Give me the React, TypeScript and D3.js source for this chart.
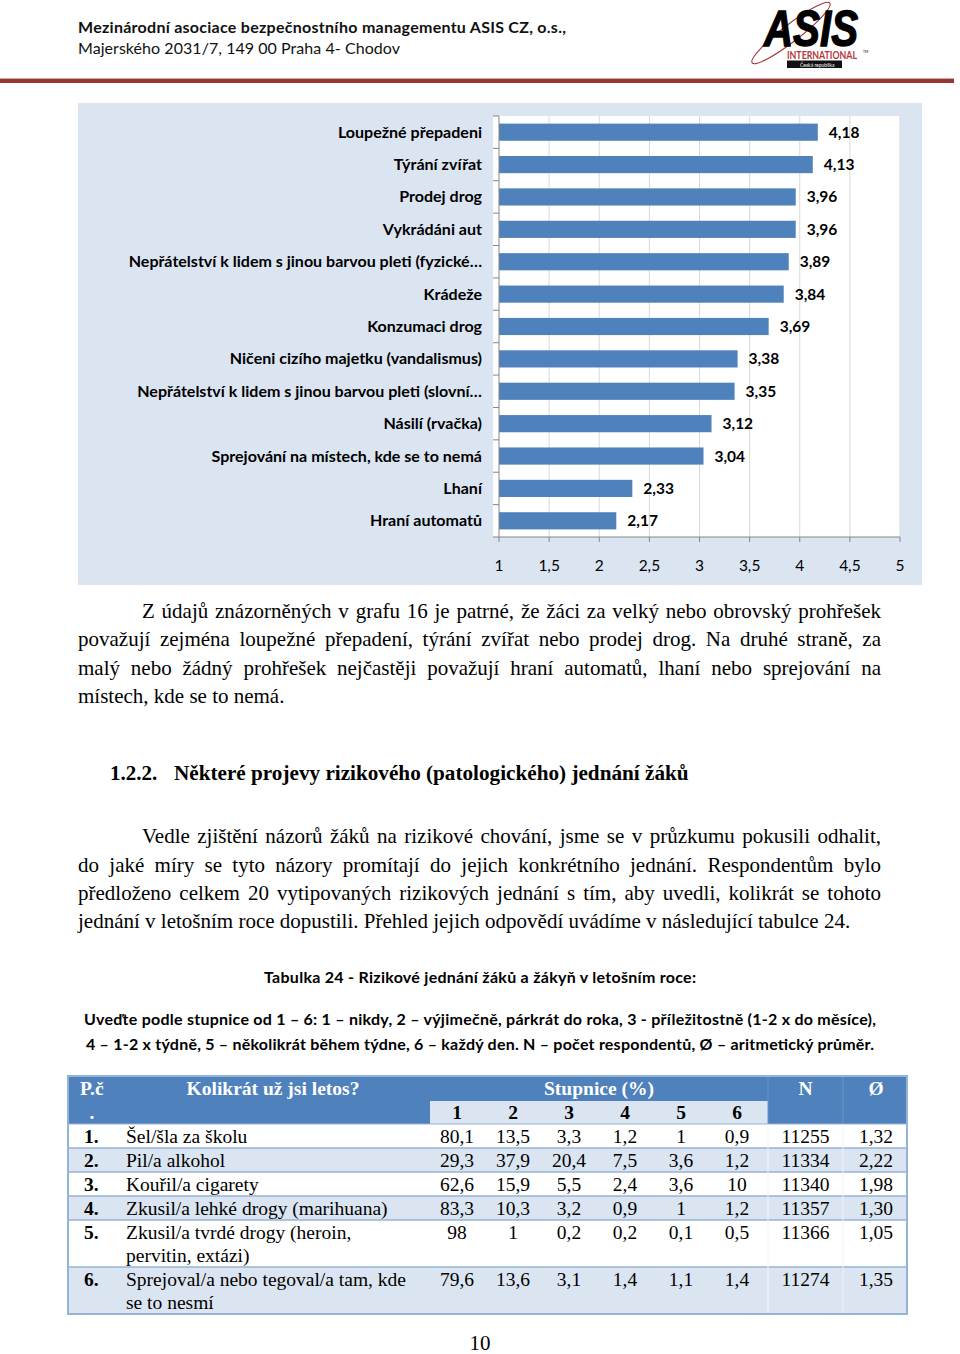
import React, { useRef, useLayoutEffect } from "react";
import * as d3 from "d3";

// ---------- chart data ----------
const categories = [
  "Loupežné přepadeni",
  "Týrání zvířat",
  "Prodej drog",
  "Vykrádáni aut",
  "Nepřátelství k lidem s jinou barvou pleti (fyzické…",
  "Krádeže",
  "Konzumaci drog",
  "Ničeni cizího majetku (vandalismus)",
  "Nepřátelství k lidem s jinou barvou pleti (slovní…",
  "Násilí (rvačka)",
  "Sprejování na místech, kde se to nemá",
  "Lhaní",
  "Hraní automatů",
];
const values = [4.18, 4.13, 3.96, 3.96, 3.89, 3.84, 3.69, 3.38, 3.35, 3.12, 3.04, 2.33, 2.17];
const xTicks = [1, 1.5, 2, 2.5, 3, 3.5, 4, 4.5, 5];

// ---------- table data ----------
const rowNumbers = ["1.", "2.", "3.", "4.", "5.", "6."];
const rowLabels = [
  ["Šel/šla za školu"],
  ["Pil/a alkohol"],
  ["Kouřil/a cigarety"],
  ["Zkusil/a lehké drogy (marihuana)"],
  ["Zkusil/a tvrdé drogy (heroin,", "pervitin, extázi)"],
  ["Sprejoval/a nebo tegoval/a tam, kde", "se to nesmí"],
];
const scaleLevels = [1, 2, 3, 4, 5, 6];
const pct1 = [80.1, 29.3, 62.6, 83.3, 98, 79.6];
const pct2 = [13.5, 37.9, 15.9, 10.3, 1, 13.6];
const pct3 = [3.3, 20.4, 5.5, 3.2, 0.2, 3.1];
const pct4 = [1.2, 7.5, 2.4, 0.9, 0.2, 1.4];
const pct5 = [1, 3.6, 3.6, 1, 0.1, 1.1];
const pct6 = [0.9, 1.2, 10, 1.2, 0.5, 1.4];
const nResp = [11255, 11334, 11340, 11357, 11366, 11274];
const means = [1.32, 2.22, 1.98, 1.3, 1.05, 1.35];

// ---------- texts ----------
const para1 = [
  "Z údajů znázorněných v grafu 16 je patrné, že žáci za velký nebo obrovský prohřešek",
  "považují zejména loupežné přepadení, týrání zvířat nebo prodej drog. Na druhé straně, za",
  "malý nebo žádný prohřešek nejčastěji považují hraní automatů, lhaní nebo sprejování na",
  "místech, kde se to nemá.",
];
const para2 = [
  "Vedle zjištění názorů žáků na rizikové chování, jsme se v průzkumu pokusili odhalit,",
  "do jaké míry se tyto názory promítají do jejich konkrétního jednání. Respondentům bylo",
  "předloženo celkem 20 vytipovaných rizikových jednání s tím, aby uvedli, kolikrát se tohoto",
  "jednání v letošním roce dopustili. Přehled jejich odpovědí uvádíme v následující tabulce 24.",
];

const SANS = "Lato, 'Open Sans', sans-serif";
const SERIF = "'Liberation Serif', 'Times New Roman', serif";
const DARK = "#4f81bd";
const LIGHT = "#dbe5f1";
const SEP = "#95b3d7";

const comma = (v: number) => String(v).replace(".", ",");
const comma2 = (v: number) => d3.format(".2f")(v).replace(".", ",");

function JLine(props: { x: number; y: number; w: number; text: string; justify: boolean; style?: any }) {
  const ref = useRef<SVGTextElement>(null);
  const { x, y, w, text, justify, style } = props;
  useLayoutEffect(() => {
    const el = ref.current;
    if (!el) return;
    el.style.wordSpacing = "0px";
    if (!justify) return;
    const nat = el.getComputedTextLength();
    const n = (text.match(/ /g) || []).length;
    if (n > 0) el.style.wordSpacing = `${(w - nat) / n}px`;
  }, [text, w, justify]);
  return (
    <text ref={ref} x={x} y={y} style={style}>
      {text}
    </text>
  );
}

function Chart() {
  const plot = { left: 499, right: 900, top: 116, bottom: 537 };
  const x = d3.scaleLinear().domain([1, 5]).range([plot.left, plot.right]);
  const y = d3
    .scaleBand<string>()
    .domain(categories)
    .range([plot.top, plot.bottom])
    .paddingInner(0.47)
    .paddingOuter(0.235);
  const step = y.step();
  const boundaries = d3.range(categories.length + 1).map((i) => plot.top + i * step);
  return (
    <g>
      <rect x={78} y={103} width={844} height={482} fill="#dbe5f1" />
      <rect x={493} y={plot.top} width={plot.right - 493} height={plot.bottom - plot.top} fill="#fff" />
      {xTicks.slice(1).map((t) => (
        <line key={"g" + t} x1={x(t)} x2={x(t)} y1={plot.top} y2={plot.bottom} stroke="#d9d9d9" strokeWidth={1} />
      ))}
      {categories.map((c, i) => (
        <rect key={c} x={x(1)} y={y(c)!} width={x(values[i]) - x(1)} height={y.bandwidth()} fill={DARK} />
      ))}
      <line x1={plot.left} x2={plot.left} y1={plot.top} y2={plot.bottom} stroke="#868686" />
      {boundaries.map((b, i) => (
        <line key={"yt" + i} x1={plot.left - 6} x2={plot.left} y1={b} y2={b} stroke="#868686" />
      ))}
      <line x1={plot.left} x2={plot.right} y1={plot.bottom} y2={plot.bottom} stroke="#868686" />
      {xTicks.map((t) => (
        <g key={"xt" + t}>
          <line x1={x(t)} x2={x(t)} y1={plot.bottom} y2={plot.bottom + 5} stroke="#868686" />
          <text x={x(t)} y={571} textAnchor="middle" fontFamily={SANS} fontSize={15.5} fill="#000">
            {comma(t)}
          </text>
        </g>
      ))}
      {categories.map((c, i) => (
        <g key={"l" + c}>
          <text
            x={482}
            y={y(c)! + y.bandwidth() / 2 + 5.5}
            textAnchor="end"
            fontFamily={SANS}
            fontWeight="bold"
            fontSize={16.05}
            fill="#000"
          >
            {c}
          </text>
          <text
            x={x(values[i]) + 11}
            y={y(c)! + y.bandwidth() / 2 + 5.5}
            fontFamily={SANS}
            fontWeight="bold"
            fontSize={15.5}
            fill="#000"
          >
            {comma2(values[i])}
          </text>
        </g>
      ))}
    </g>
  );
}

function Table() {
  const top = 1076;
  const sub = 1100;
  const bodyTop = 1124;
  const left = 68;
  const right = 907;
  const cPc = 120;
  const cLabel = 430;
  const cN = 768;
  const cAvg = 843;
  const lev = d3.scaleBand<number>().domain(scaleLevels).range([429, 765]);
  const rowH = (r: number) => 24 + (rowLabels[r].length - 1) * 23;
  const tops: number[] = [];
  let acc = bodyTop;
  rowLabels.forEach((_, r) => {
    tops.push(acc);
    acc += rowH(r);
  });
  const bottom = acc;
  const cols = [pct1, pct2, pct3, pct4, pct5, pct6];
  const font = { fontFamily: SERIF, fontSize: 19.5 };
  return (
    <g>
      <rect x={left} y={top} width={right - left} height={sub + 24 - top} fill={DARK} />
      <rect x={cLabel} y={sub + 1} width={cN - cLabel} height={23} fill={LIGHT} />
      <line x1={cN} x2={cN} y1={top} y2={bodyTop} stroke="#6d97cb" strokeWidth={1} />
      <line x1={cAvg} x2={cAvg} y1={top} y2={bodyTop} stroke="#6d97cb" strokeWidth={1} />
      {rowLabels.map((_, r) => (
        <rect key={"bg" + r} x={left} y={tops[r]} width={right - left} height={rowH(r)} fill={r % 2 === 0 ? "#fff" : LIGHT} />
      ))}
      {tops.slice(1).map((t, i) => (
        <line key={"sep" + i} x1={left} x2={right} y1={t} y2={t} stroke={SEP} strokeWidth={1.5} />
      ))}
      <line x1={left} x2={right} y1={bodyTop} y2={bodyTop} stroke={SEP} strokeWidth={1} />
      <line x1={cN} x2={cN} y1={bodyTop} y2={bottom} stroke="#eef3f9" strokeWidth={1} />
      <line x1={cAvg} x2={cAvg} y1={bodyTop} y2={bottom} stroke="#eef3f9" strokeWidth={1} />
      <rect x={left} y={top} width={right - left} height={bottom - top} fill="none" stroke={SEP} strokeWidth={2} />
      {/* header */}
      <g {...font} fontWeight="bold" fill="#fff">
        <text x={80} y={top + 18.5}>P.č</text>
        <text x={92} y={sub + 18.5} textAnchor="middle">.</text>
        <text x={(cPc + cLabel) / 2 - 2} y={top + 18.5} textAnchor="middle">Kolikrát už jsi letos?</text>
        <text x={(cLabel + cN) / 2} y={top + 18.5} textAnchor="middle">Stupnice (%)</text>
        <text x={(cN + cAvg) / 2} y={top + 18.5} textAnchor="middle">N</text>
        <text x={(cAvg + right) / 2 + 1} y={top + 18.5} textAnchor="middle">Ø</text>
      </g>
      <g {...font} fontWeight="bold" fill="#000">
        {scaleLevels.map((l) => (
          <text key={"lv" + l} x={lev(l)! + lev.bandwidth() / 2} y={sub + 18.5} textAnchor="middle">
            {l}
          </text>
        ))}
      </g>
      {/* body */}
      <g {...font} fill="#000">
        {rowLabels.map((lines, r) => (
          <g key={"row" + r}>
            <text x={84} y={tops[r] + 18.5} fontWeight="bold">{rowNumbers[r]}</text>
            {lines.map((ln, k) => (
              <text key={k} x={126} y={tops[r] + 18.5 + k * 23}>{ln}</text>
            ))}
            {cols.map((col, ci) => (
              <text key={"c" + ci} x={lev(scaleLevels[ci])! + lev.bandwidth() / 2} y={tops[r] + 18.5} textAnchor="middle">
                {comma(col[r])}
              </text>
            ))}
            <text x={(cN + cAvg) / 2} y={tops[r] + 18.5} textAnchor="middle">{nResp[r]}</text>
            <text x={(cAvg + right) / 2 + 1} y={tops[r] + 18.5} textAnchor="middle">{comma2(means[r])}</text>
          </g>
        ))}
      </g>
    </g>
  );
}

function Header() {
  return (
    <g>
      <text x={78} y={33} fontFamily={SANS} fontWeight="bold" fontSize={16} fill="#111" textLength={488} lengthAdjust="spacing">
        Mezinárodní asociace bezpečnostního managementu ASIS CZ, o.s.,
      </text>
      <text x={78} y={54} fontFamily={SANS} fontSize={16} fill="#111" textLength={322} lengthAdjust="spacing">
        Majerského 2031/7, 149 00 Praha 4- Chodov
      </text>
      <rect x={0} y={79} width={954} height={4} fill="#943634" />
      <rect x={0} y={78} width={954} height={1} fill="#d9a3a3" />
      {/* logo */}
      <ellipse cx={791} cy={33} rx={49} ry={8.5} transform="rotate(-37.6 791 33)" fill="none" stroke="#a8323a" strokeWidth={1.1} />
      <text
        x={764}
        y={46}
        fontFamily="'Liberation Sans', Arial, sans-serif"
        fontWeight="bold"
        fontStyle="italic"
        fontSize={50}
        fill="#000"
        stroke="#000"
        strokeWidth={1.4}
        textLength={94}
        lengthAdjust="spacingAndGlyphs"
      >
        ASIS
      </text>
      <text x={787} y={59} fontFamily={SANS} fontWeight="bold" fontSize={11} fill="#b5373b" textLength={70} lengthAdjust="spacingAndGlyphs">
        INTERNATIONAL
      </text>
      <text x={863} y={53} fontFamily={SANS} fontSize={3.5} fill="#000">TM</text>
      <rect x={787} y={60.5} width={55} height={7.5} fill="#111" />
      <text x={800} y={66.5} fontFamily={SANS} fontSize={5} fill="#fff">Česká republika</text>
    </g>
  );
}

function Body() {
  const st = { fontFamily: SERIF, fontSize: 21, fill: "#000" };
  const base1 = [618, 646, 675, 703];
  const base2 = [843, 872, 900, 928];
  return (
    <g>
      {para1.map((t, i) => (
        <JLine key={"p1" + i} x={i === 0 ? 142 : 78} y={base1[i]} w={i === 0 ? 739 : 803} text={t} justify={i < para1.length - 1} style={st} />
      ))}
      <text x={110} y={780} style={{ ...st, fontWeight: "bold" }}>1.2.2.</text>
      <text x={174} y={780} style={{ ...st, fontWeight: "bold", fontSize: 21.2 }}>Některé projevy rizikového (patologického) jednání žáků</text>
      {para2.map((t, i) => (
        <JLine key={"p2" + i} x={i === 0 ? 142 : 78} y={base2[i]} w={i === 0 ? 739 : 803} text={t} justify={i < para2.length - 1} style={st} />
      ))}
      <text x={264} y={983} fontFamily={SANS} fontWeight="bold" fontSize={16} fill="#000" textLength={432} lengthAdjust="spacing">
        Tabulka 24 - Rizikové jednání žáků a žákyň v letošním roce:
      </text>
      <text x={84} y={1025} fontFamily={SANS} fontWeight="bold" fontSize={16} fill="#000" textLength={792} lengthAdjust="spacing">
        Uveďte podle stupnice od 1 – 6: 1 – nikdy, 2 – výjimečně, párkrát do roka, 3 - příležitostně (1-2 x do měsíce),
      </text>
      <text x={86} y={1050} fontFamily={SANS} fontWeight="bold" fontSize={16} fill="#000" textLength={788} lengthAdjust="spacing">
        4 – 1-2 x týdně, 5 – několikrát během týdne, 6 – každý den. N – počet respondentů, Ø – aritmetický průměr.
      </text>
      <text x={480} y={1350} textAnchor="middle" style={st}>10</text>
    </g>
  );
}

export default function App() {
  return (
    <svg width={960} height={1354} style={{ position: "absolute", left: 0, top: 0, background: "#fff" }}>
      <rect width={960} height={1354} fill="#fff" />
      <Header />
      <Chart />
      <Body />
      <Table />
    </svg>
  );
}
